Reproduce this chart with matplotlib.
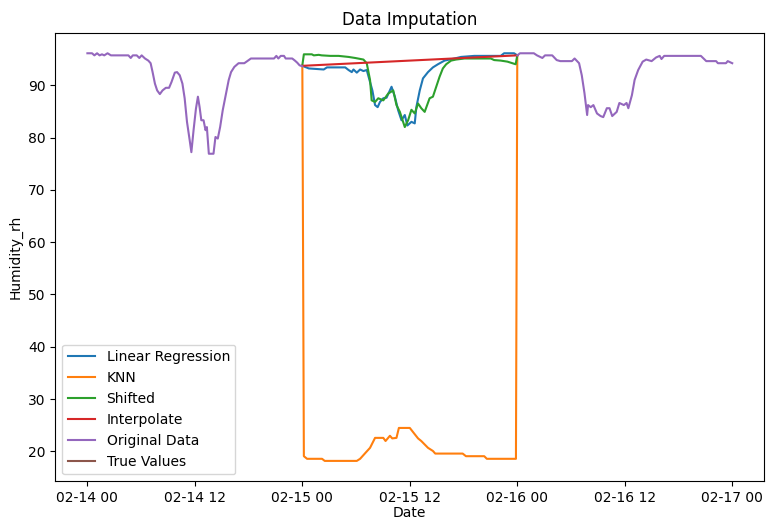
import numpy as np
import pandas as pd
import matplotlib
matplotlib.use("Agg")
import matplotlib.pyplot as plt
import matplotlib.dates as mdates

start = pd.Timestamp("2023-02-14 00:00")

# original data, day 1 (hours from start, humidity)
orig1_h = [0.0, 0.52, 0.78, 1.08, 1.36, 1.63, 1.88, 2.25, 2.63, 4.58, 4.84, 5.07, 5.51, 5.8,
           6.06, 6.43, 6.8, 7.06, 7.28, 7.54, 7.79, 8.09, 8.39, 8.76, 9.12, 9.39, 9.76, 10.01,
           10.31, 10.61, 10.86, 11.12, 11.42, 11.61, 11.86, 12.12, 12.34, 12.53, 12.72, 12.97,
           13.19, 13.34, 13.56, 14.08, 14.3, 14.56, 14.82, 15.11, 15.41, 15.78, 16.04, 16.41,
           16.88, 17.52, 17.77, 18.26, 20.84, 21.1, 21.32, 21.59, 21.95, 22.14, 22.87, 23.17,
           23.43, 23.69, 24.0]
orig1_v = [96.1, 96.1, 95.7, 96.1, 95.7, 95.9, 95.7, 96.1, 95.7, 95.7, 95.2, 95.7, 95.7, 95.2,
           95.7, 95.1, 94.7, 94.2, 92.5, 90.3, 89.0, 88.3, 89.0, 89.5, 89.5, 90.6, 92.4, 92.5,
           91.9, 90.3, 87.5, 83.0, 79.5, 77.2, 81.5, 85.5, 87.8, 85.8, 83.3, 83.3,
           81.4, 82.0, 76.9, 76.9, 80.1, 79.8, 82.0, 85.2, 87.8, 91.0, 92.5, 93.5,
           94.2, 94.2, 94.5, 95.1, 95.1, 95.6, 95.1, 95.6, 95.6, 95.1, 95.1, 94.7,
           94.3, 93.8, 93.6]

# original data, day 3
orig3_h = [48.0, 48.3, 49.85, 50.2, 50.8, 51.1, 51.9, 52.4, 52.8, 54.1, 54.4, 54.9, 55.2, 55.5,
           55.8, 55.9, 56.2, 56.5, 56.9, 57.3, 57.6, 58.0, 58.3, 58.6, 59.1, 59.4, 59.9, 60.2,
           60.4, 60.8, 61.1, 61.5, 62.0, 62.4, 63.0, 63.5, 63.9, 64.1, 64.4, 68.5, 69.1, 70.2,
           70.4, 71.3, 71.5, 72.0]
orig3_v = [95.7, 96.1, 96.1, 95.7, 95.2, 95.7, 95.7, 94.8, 94.6, 94.6, 95.1, 94.2, 91.9, 88.5,
           84.3, 86.2, 85.8, 86.2, 84.6, 84.1, 83.9, 85.6, 85.6, 84.1, 84.9, 86.6, 86.2, 86.6,
           85.6, 88.1, 91.0, 92.9, 94.5, 94.9, 94.6, 95.3, 95.6, 95.0, 95.6, 95.6, 94.6, 94.6,
           94.2, 94.2, 94.6, 94.2]

# imputed day 2
lr_h = [24.0, 24.72, 26.39, 26.75, 28.79, 29.16, 29.52, 29.71, 30.08, 30.45, 30.82, 31.19,
        31.56, 31.82, 32.12, 32.41, 32.67, 33.04, 33.4, 33.96, 34.33, 34.7, 35.07, 35.44,
        35.73, 36.18, 36.55, 36.73, 37.11, 37.47, 38.03, 38.58, 39.14, 39.88, 40.99, 41.72,
        43.2, 46.15, 46.53, 47.64, 48.0]
lr_v = [93.7, 93.2, 93.0, 93.4, 93.4, 92.9, 92.5, 93.0, 92.4, 93.0, 92.7, 92.9,
        90.6, 89.0, 86.2, 85.8, 86.8, 87.5, 87.6, 89.7, 87.8, 85.2, 83.3, 84.3,
        82.3, 83.0, 82.7, 85.8, 89.0, 91.3, 92.5, 93.4, 94.0, 94.7, 95.1, 95.4,
        95.6, 95.6, 96.1, 96.1, 95.7]

knn_h = [24.0, 24.17, 24.53, 26.2, 26.5, 30.08, 30.45, 31.08, 31.56, 32.12, 33.04, 33.29,
         33.78, 34.04, 34.51, 34.78, 36.0, 36.55, 36.92, 37.28, 38.03, 38.58, 38.84, 41.9,
         42.27, 44.31, 44.6, 47.85, 48.0]
knn_v = [93.7, 19.1, 18.6, 18.6, 18.2, 18.2, 18.6, 19.8, 20.7, 22.6, 22.6, 22.0,
         23.0, 22.5, 22.6, 24.5, 24.5, 23.3, 22.5, 22.0, 20.7, 20.1, 19.6, 19.6,
         19.1, 19.1, 18.6, 18.6, 95.7]

shift_h = [24.0, 24.17, 25.06, 25.28, 25.83, 26.16, 27.13, 28.05, 29.16, 29.9, 30.82, 31.19,
           31.56, 31.74, 32.12, 32.48, 33.04, 33.59, 34.15, 34.51, 34.89, 35.44, 35.81, 36.18,
           36.55, 36.92, 37.28, 37.66, 38.21, 38.58, 38.95, 39.32, 39.69, 40.06, 40.61, 41.16,
           42.1, 45.04, 45.42, 46.15, 46.9, 47.82, 48.0]
shift_v = [93.8, 95.9, 95.9, 95.7, 95.8, 95.7, 95.6, 95.6, 95.4, 95.2, 94.9, 94.2,
           91.0, 87.1, 86.8, 87.5, 87.1, 88.4, 89.0, 86.2, 84.9, 82.0, 83.3, 85.3,
           84.6, 86.5, 85.6, 84.9, 87.5, 87.8, 89.7, 91.6, 93.2, 94.0, 94.7, 94.9,
           95.1, 95.1, 94.8, 94.7, 94.5, 94.0, 95.7]

interp_h = [24.0, 48.0]
interp_v = [93.7, 95.7]

true_h = []
true_v = []


def to_dates(hours):
    return start + pd.to_timedelta(hours, unit="h")


# original series has a gap over the missing day
orig_h = orig1_h + [36.0] + orig3_h
orig_v = orig1_v + [np.nan] + orig3_v

fig, ax = plt.subplots(figsize=(7.66, 5.22), dpi=100)
fig.subplots_adjust(left=0.072, right=0.998, top=0.937, bottom=0.078)

ax.plot(to_dates(lr_h), lr_v, label="Linear Regression")
ax.plot(to_dates(knn_h), knn_v, label="KNN")
ax.plot(to_dates(shift_h), shift_v, label="Shifted")
ax.plot(to_dates(interp_h), interp_v, label="Interpolate")
ax.plot(to_dates(orig_h), orig_v, label="Original Data")
ax.plot(to_dates(true_h), true_v, label="True Values")

ax.xaxis.set_major_locator(mdates.HourLocator(byhour=[0, 12]))
ax.xaxis.set_major_formatter(mdates.DateFormatter("%m-%d %H"))

ax.set_title("Data Imputation")
ax.set_xlabel("Date", labelpad=1)
ax.set_ylabel("Humidity_rh")
ax.legend(loc="lower left")

fig.savefig("out.png", dpi=100)
